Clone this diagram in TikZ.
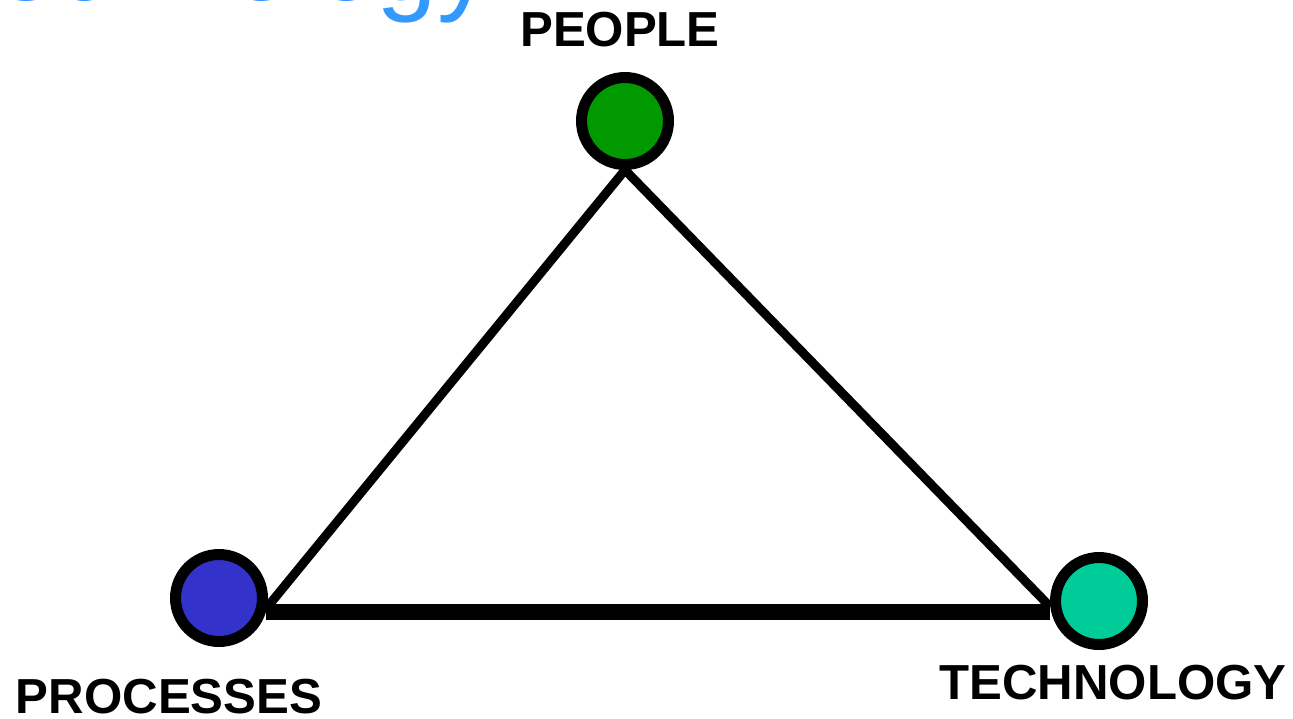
\documentclass[tikz,border=0pt]{standalone}
\usepackage{fontspec}
\setmainfont{Liberation Sans}
\usetikzlibrary{positioning}
\definecolor{titleblue}{RGB}{51,153,255}
\definecolor{peoplegreen}{RGB}{0,153,0}
\definecolor{procblue}{RGB}{51,51,204}
\definecolor{techteal}{RGB}{0,204,153}

\begin{document}
\begin{tikzpicture}[x=0.02cm, y=-0.02cm, dot/.style={circle, draw=black, line width=0.22cm, minimum size=1.74cm, inner sep=0pt}, tag/.style={font=\fontsize{28}{30}\selectfont\bfseries, inner sep=0pt}, side/.style={line width=0.18cm}]
\useasboundingbox (0,0) rectangle (1293,718);
\clip (0,0) rectangle (1293,718);
\node[anchor=base east, text=titleblue, font=\fontsize{62}{64}\selectfont, inner sep=0pt] (head) at (492,0) {Technology};
\node[dot, fill=peoplegreen] (people) at (625,121) {};
\node[dot, fill=procblue] (proc) at (219,598) {};
\node[dot, fill=techteal] (tech) at (1099,601) {};
\node[tag] (lpeople) at (620,30) {PEOPLE};
\node[tag] (lproc) at (169,697) {PROCESSES};
\node[tag] (ltech) at (1113,683) {TECHNOLOGY};
\draw[side] (people.south) -- (proc.-11);
\draw[side] (people.south) -- (tech.-173);
\draw[line width=0.32cm] (proc.-16) -- (proc.-16 -| tech.west);
\end{tikzpicture}
\end{document}
